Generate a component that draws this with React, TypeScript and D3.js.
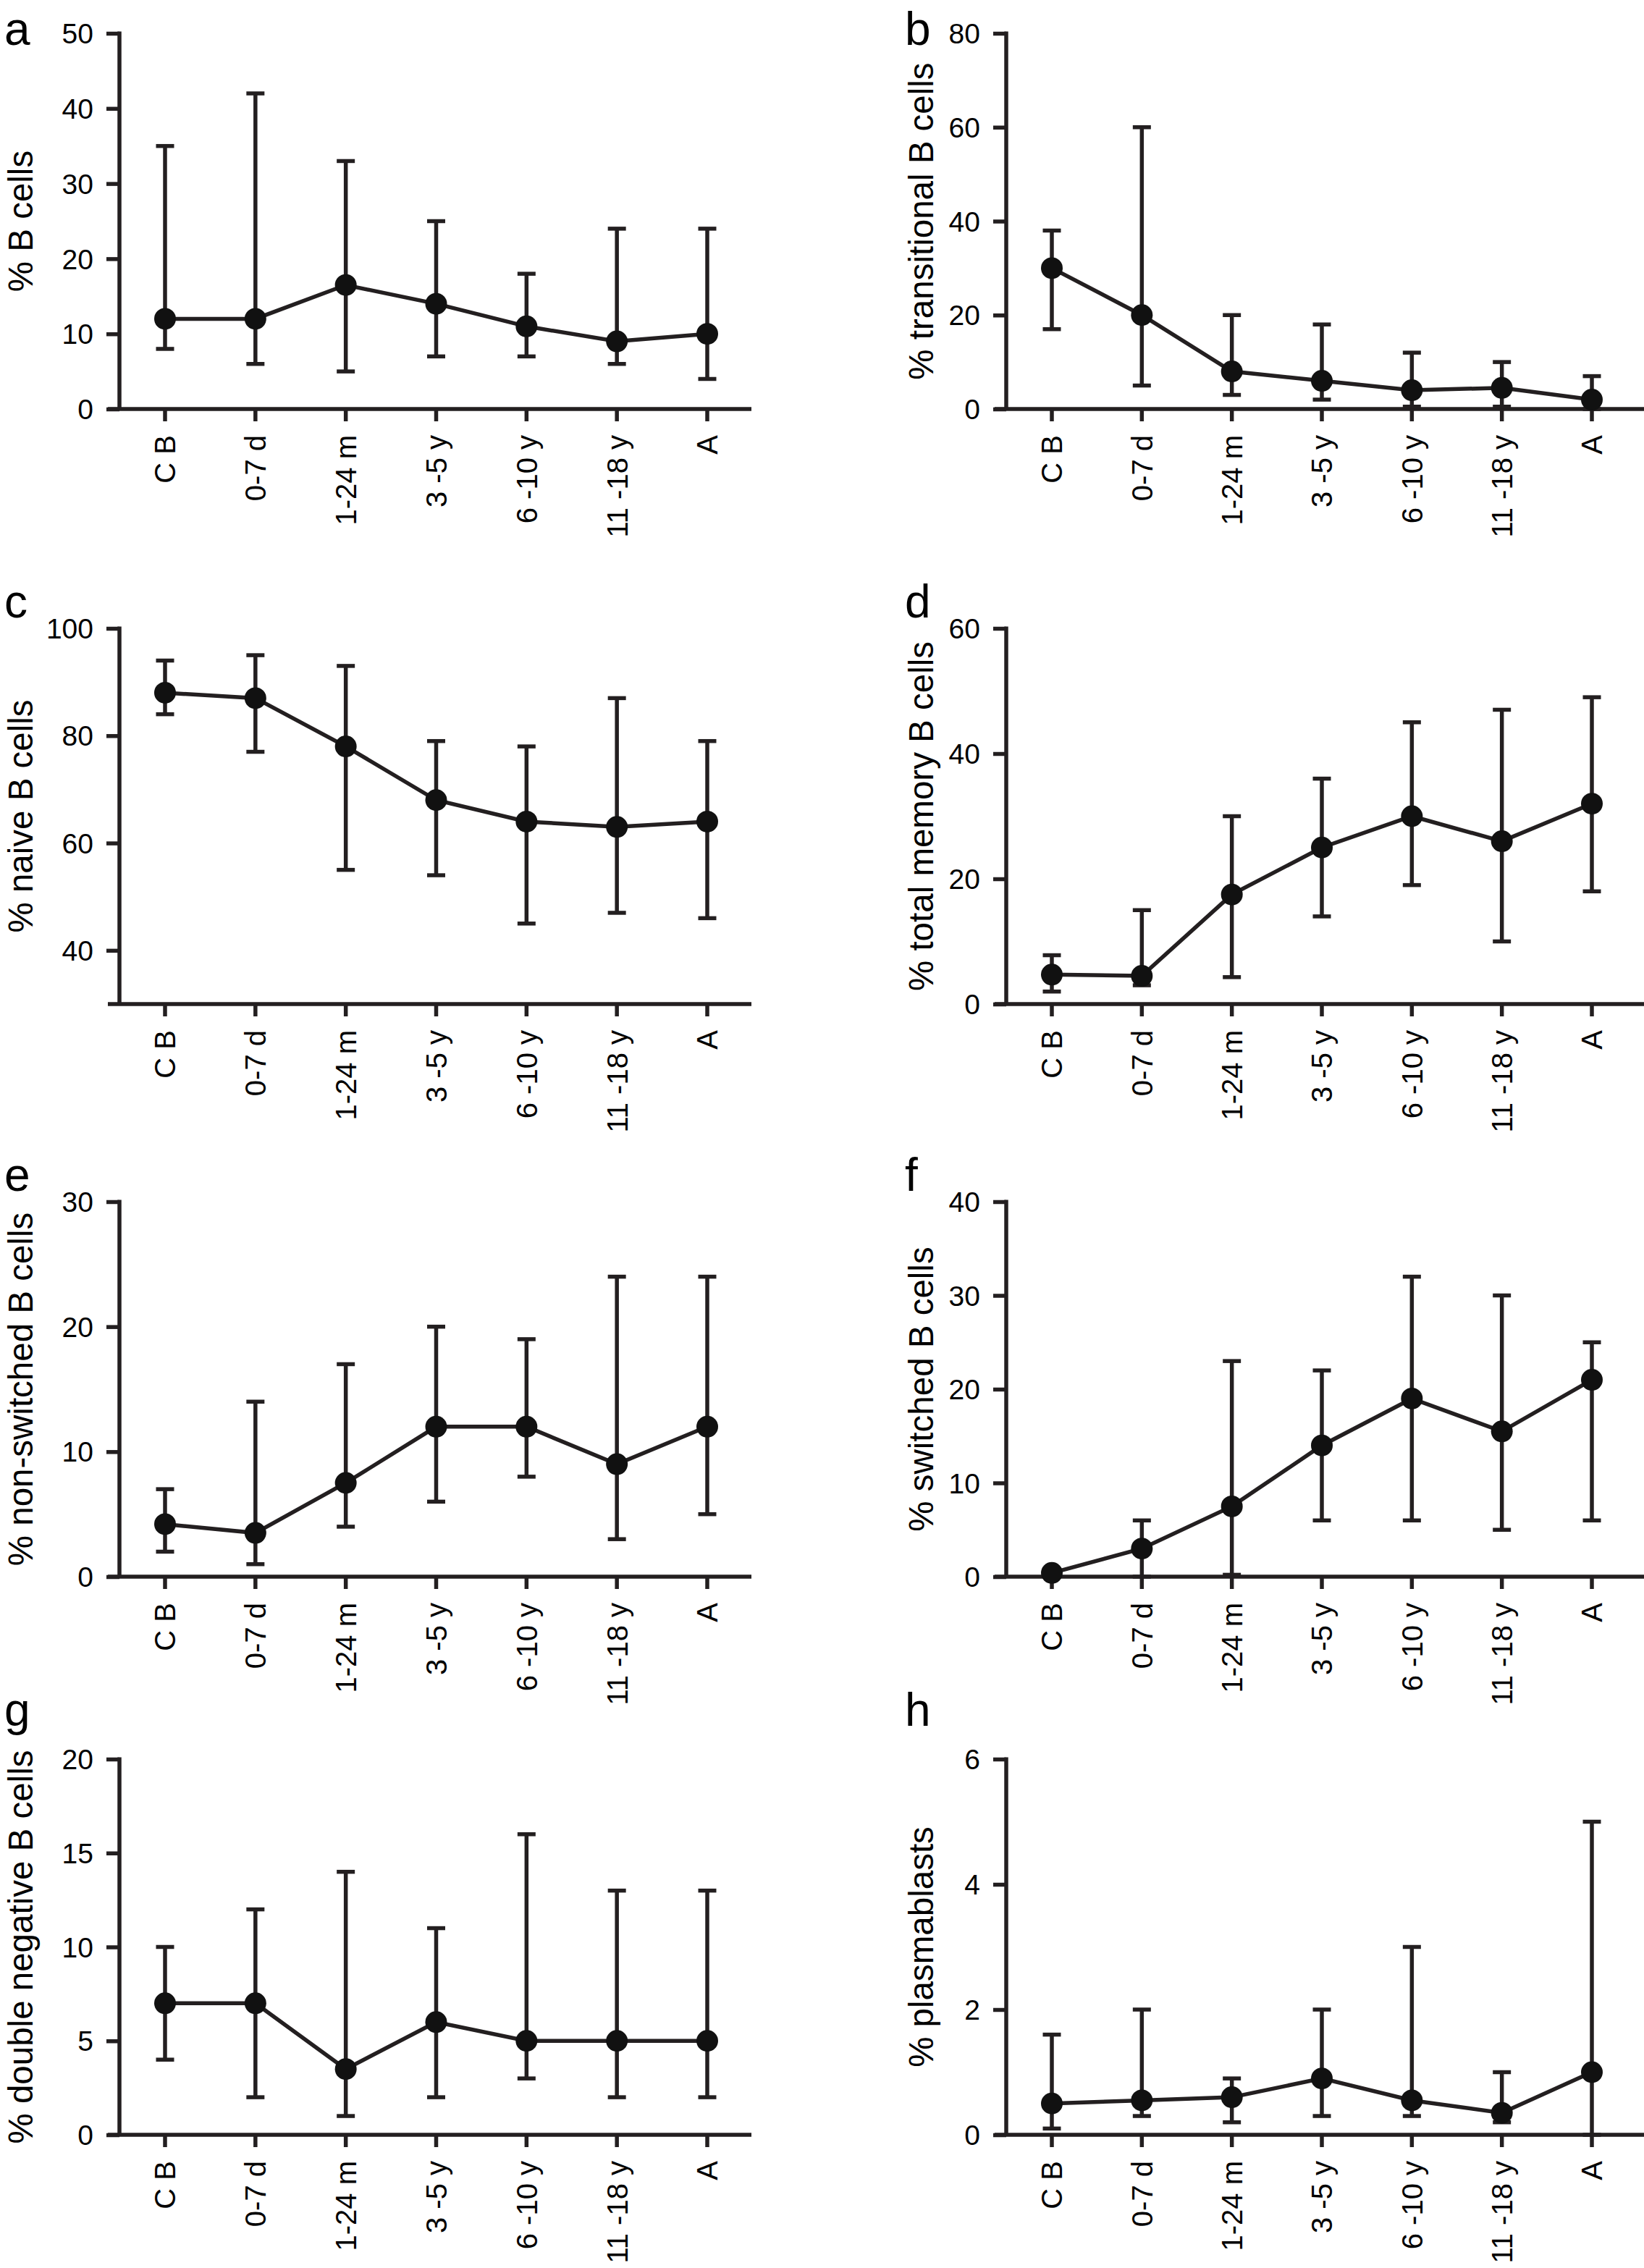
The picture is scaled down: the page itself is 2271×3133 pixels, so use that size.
import React, { useEffect, useRef } from 'react';
import * as d3 from 'd3';

// --- data ---
const categories = ['C B', '0-7 d', '1-24 m', '3 -5 y', '6 -10 y', '11 -18 y', 'A'];

const bCellMean = [12, 12, 16.5, 14, 11, 9, 10];
const bCellHigh = [35, 42, 33, 25, 18, 24, 24];
const bCellLow = [8, 6, 5, 7, 7, 6, 4];

const transMean = [30, 20, 8, 6, 4, 4.5, 2];
const transHigh = [38, 60, 20, 18, 12, 10, 7];
const transLow = [17, 5, 3, 2, 0.5, 0.5, 0];

const naiveMean = [88, 87, 78, 68, 64, 63, 64];
const naiveHigh = [94, 95, 93, 79, 78, 87, 79];
const naiveLow = [84, 77, 55, 54, 45, 47, 46];

const memoryMean = [4.7, 4.5, 17.5, 25, 30, 26, 32];
const memoryHigh = [7.8, 15, 30, 36, 45, 47, 49];
const memoryLow = [2, 3, 4.3, 14, 19, 10, 18];

const nonSwMean = [4.2, 3.5, 7.5, 12, 12, 9, 12];
const nonSwHigh = [7, 14, 17, 20, 19, 24, 24];
const nonSwLow = [2, 1, 4, 6, 8, 3, 5];

const swMean = [0.4, 3, 7.5, 14, 19, 15.5, 21];
const swHigh = [0.8, 6, 23, 22, 32, 30, 25];
const swLow = [0, 0, 0.2, 6, 6, 5, 6];

const dnMean = [7, 7, 3.5, 6, 5, 5, 5];
const dnHigh = [10, 12, 14, 11, 16, 13, 13];
const dnLow = [4, 2, 1, 2, 3, 2, 2];

const plasmaMean = [0.5, 0.55, 0.6, 0.9, 0.55, 0.35, 1];
const plasmaHigh = [1.6, 2, 0.9, 2, 3, 1, 5];
const plasmaLow = [0.1, 0.3, 0.2, 0.3, 0.3, 0.2, 0];

const panels = [
  { letter: 'a', title: '% B cells', domain: [0, 50], ticks: [0, 10, 20, 30, 40, 50], mean: bCellMean, high: bCellHigh, low: bCellLow },
  { letter: 'b', title: '% transitional B cells', domain: [0, 80], ticks: [0, 20, 40, 60, 80], mean: transMean, high: transHigh, low: transLow },
  { letter: 'c', title: '% naive B cells', domain: [30, 100], ticks: [40, 60, 80, 100], mean: naiveMean, high: naiveHigh, low: naiveLow },
  { letter: 'd', title: '% total memory B cells', domain: [0, 60], ticks: [0, 20, 40, 60], mean: memoryMean, high: memoryHigh, low: memoryLow },
  { letter: 'e', title: '% non-switched B cells', domain: [0, 30], ticks: [0, 10, 20, 30], mean: nonSwMean, high: nonSwHigh, low: nonSwLow },
  { letter: 'f', title: '% switched B cells', domain: [0, 40], ticks: [0, 10, 20, 30, 40], mean: swMean, high: swHigh, low: swLow },
  { letter: 'g', title: '% double negative B cells', domain: [0, 20], ticks: [0, 5, 10, 15, 20], mean: dnMean, high: dnHigh, low: dnLow },
  { letter: 'h', title: '% plasmablasts', domain: [0, 6], ticks: [0, 2, 4, 6], mean: plasmaMean, high: plasmaHigh, low: plasmaLow },
];

// --- layout ---
const W = 2271;
const H = 3133;
const ROWS = [
  { top: 46, bottom: 565, letterY: 62 },
  { top: 868, bottom: 1387, letterY: 853 },
  { top: 1660, bottom: 2178, letterY: 1645 },
  { top: 2430, bottom: 2949, letterY: 2384 },
];
const COLS = [
  { axisX: 165, first: 228, last: 977, xEnd: 1038, titleX: 45, letterX: 6 },
  { axisX: 1390, first: 1453, last: 2199, xEnd: 2271, titleX: 1289, letterX: 1250 },
];
const INK = '#231f20';
const FONT = 'Liberation Sans, Arial, Helvetica, sans-serif';

const App: React.FC = () => {
  const svgRef = useRef<SVGSVGElement | null>(null);

  useEffect(() => {
    if (!svgRef.current) return;
    const svg = d3.select(svgRef.current);
    svg.selectAll('*').remove();

    svg.append('rect').attr('width', W).attr('height', H).attr('fill', '#fff');

    panels.forEach((p, i) => {
      const row = ROWS[Math.floor(i / 2)];
      const col = COLS[i % 2];
      const g = svg.append('g').attr('font-family', FONT);

      const x = d3.scalePoint<string>().domain(categories).range([col.first, col.last]);
      const y = d3.scaleLinear().domain(p.domain).range([row.bottom, row.top]);

      // panel letter
      g.append('text')
        .attr('x', col.letterX).attr('y', row.letterY)
        .attr('font-size', 64).attr('fill', '#000')
        .text(p.letter);

      // y axis title
      g.append('text')
        .attr('transform', `translate(${col.titleX},${(row.top + row.bottom) / 2}) rotate(-90)`)
        .attr('text-anchor', 'middle')
        .attr('font-size', 47.5).attr('fill', '#000')
        .text(p.title);

      // y axis
      const yAxis = g.append('g')
        .attr('transform', `translate(${col.axisX},0)`)
        .call(
          d3.axisLeft(y).tickValues(p.ticks).tickFormat(d3.format('d'))
            .tickSize(18).tickPadding(18).tickSizeOuter(0)
        );
      yAxis.attr('font-size', 39).attr('font-family', FONT);
      yAxis.select('.domain').attr('stroke', INK).attr('stroke-width', 5.5)
        .attr('d', `M0,${row.bottom}V${row.top - 2.5}`);
      yAxis.selectAll('.tick line').attr('stroke', INK).attr('stroke-width', 5.5);
      yAxis.selectAll('.tick text').attr('fill', '#000').attr('dy', '0.35em');

      // x axis
      g.append('line')
        .attr('x1', col.axisX - 16).attr('x2', col.xEnd)
        .attr('y1', row.bottom).attr('y2', row.bottom)
        .attr('stroke', INK).attr('stroke-width', 5.5);
      g.selectAll('.xtick').data(categories).enter().append('line')
        .attr('x1', d => x(d)!).attr('x2', d => x(d)!)
        .attr('y1', row.bottom).attr('y2', row.bottom + 17)
        .attr('stroke', INK).attr('stroke-width', 5.5);
      g.selectAll('.xlab').data(categories).enter().append('text')
        .attr('transform', d => `translate(${x(d)},${row.bottom + 36}) rotate(-90)`)
        .attr('text-anchor', 'end').attr('dy', '0.36em')
        .attr('font-size', 40).attr('fill', '#000')
        .text(d => d);

      // error bars
      const rows = categories.map((c, k) => ({ c, m: p.mean[k], hi: p.high[k], lo: p.low[k] }));
      const cap = 12.5;
      rows.forEach(r => {
        const cx = x(r.c)!;
        g.append('line')
          .attr('x1', cx).attr('x2', cx).attr('y1', y(r.lo)).attr('y2', y(r.hi))
          .attr('stroke', INK).attr('stroke-width', 5.5);
        [r.lo, r.hi].forEach(v => {
          g.append('line')
            .attr('x1', cx - cap).attr('x2', cx + cap).attr('y1', y(v)).attr('y2', y(v))
            .attr('stroke', INK).attr('stroke-width', 5.5);
        });
      });

      // mean line + markers
      const line = d3.line<{ c: string; m: number }>().x(d => x(d.c)!).y(d => y(d.m));
      g.append('path').datum(rows)
        .attr('d', line).attr('fill', 'none')
        .attr('stroke', INK).attr('stroke-width', 5.5);
      g.selectAll('.dot').data(rows).enter().append('circle')
        .attr('cx', d => x(d.c)!).attr('cy', d => y(d.m)).attr('r', 15)
        .attr('fill', '#111');
    });
  }, []);

  return (
    <svg
      ref={svgRef}
      width={W}
      height={H}
      style={{ position: 'absolute', left: 0, top: 0, display: 'block' }}
    />
  );
};

export default App;
